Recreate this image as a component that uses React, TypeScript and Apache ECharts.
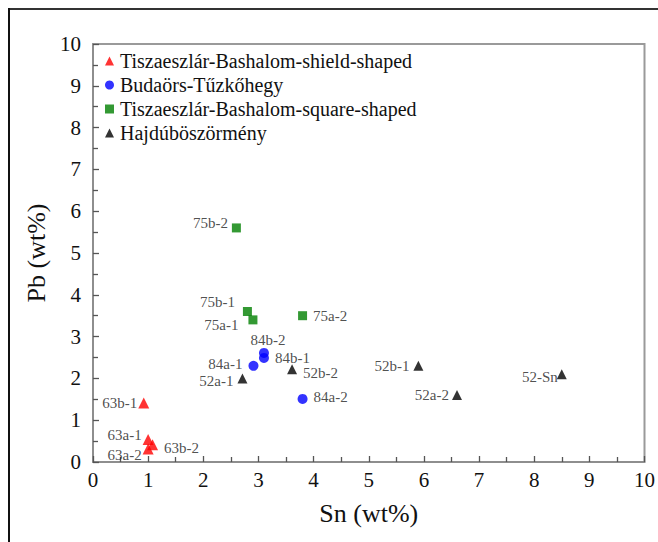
import React, { useEffect, useRef } from "react";
import * as echarts from "echarts";

const seriesNames = [
  "Tiszaeszlár-Bashalom-shield-shaped",
  "Budaörs-Tűzkőhegy",
  "Tiszaeszlár-Bashalom-square-shaped",
  "Hajdúböszörmény",
];

// [Sn, Pb, label]
const shieldData: [number, number, string][] = [
  [0.92, 1.41, "63b-1"],
  [1.0, 0.54, "63a-1"],
  [1.0, 0.31, "63a-2"],
  [1.08, 0.41, "63b-2"],
];
const budaorsData: [number, number, string][] = [
  [2.91, 2.3, "84a-1"],
  [3.1, 2.61, "84b-2"],
  [3.1, 2.49, "84b-1"],
  [3.8, 1.51, "84a-2"],
];
const squareData: [number, number, string][] = [
  [2.6, 5.6, "75b-2"],
  [2.8, 3.6, "75b-1"],
  [2.9, 3.4, "75a-1"],
  [3.8, 3.5, "75a-2"],
];
const hajduData: [number, number, string][] = [
  [2.71, 2.0, "52a-1"],
  [3.61, 2.22, "52b-2"],
  [5.9, 2.3, "52b-1"],
  [6.6, 1.6, "52a-2"],
  [8.5, 2.1, "52-Sn"],
];

const labelPlacement: Record<string, { position: string; offset: [number, number] }> = {
  "63b-1": { position: "left", offset: [3, 0] },
  "63a-1": { position: "left", offset: [3, -4] },
  "63a-2": { position: "left", offset: [3, 6] },
  "63b-2": { position: "right", offset: [2, 3] },
  "84a-1": { position: "left", offset: [-2, -2] },
  "84b-2": { position: "top", offset: [4, 4] },
  "84b-1": { position: "right", offset: [2, 0] },
  "84a-2": { position: "right", offset: [2, -2] },
  "75b-2": { position: "left", offset: [0, -5] },
  "75b-1": { position: "left", offset: [-4, -10] },
  "75a-1": { position: "left", offset: [-6, 5] },
  "75a-2": { position: "right", offset: [2, 0] },
  "52a-1": { position: "left", offset: [0, 3] },
  "52b-2": { position: "right", offset: [2, 4] },
  "52b-1": { position: "left", offset: [0, 0] },
  "52a-2": { position: "left", offset: [1, 0] },
  "52-Sn": { position: "left", offset: [5, 3] },
};

const FONT = "Liberation Serif";

function toData(arr: [number, number, string][]) {
  return arr.map(([x, y, name]) => ({
    value: [x, y],
    name,
    label: {
      show: true,
      formatter: name,
      position: labelPlacement[name].position,
      offset: labelPlacement[name].offset,
      distance: 4,
      fontFamily: FONT,
      fontSize: 15,
      color: "#222",
    },
  }));
}

export default function App() {
  const ref = useRef<HTMLDivElement>(null);
  useEffect(() => {
    if (!ref.current) return;
    const chart = echarts.init(ref.current, null, { renderer: "svg" });
    const axisCommon = {
      min: 0,
      max: 10,
      interval: 1,
      axisLine: { show: true, lineStyle: { color: "#8a8a8a", width: 1.5 } },
      axisTick: { show: true, inside: true, length: 6, lineStyle: { color: "#555", width: 1.3 } },
      minorTick: { show: true, splitNumber: 2, length: 5, lineStyle: { color: "#555", width: 1.3 } },
      splitLine: { show: false },
      minorSplitLine: { show: false },
      axisLabel: { fontFamily: FONT, fontSize: 21, color: "#111" },
      nameTextStyle: { fontFamily: FONT, fontSize: 26, color: "#111" },
      nameLocation: "middle",
    };
    chart.setOption({
      animation: false,
      backgroundColor: "#fff",
      textStyle: { fontFamily: FONT },
      graphic: [
        { type: "line", shape: { x1: 0, y1: 1, x2: 650, y2: 1 }, style: { stroke: "#333", lineWidth: 2 } },
        { type: "line", shape: { x1: 1, y1: 0, x2: 1, y2: 534 }, style: { stroke: "#111", lineWidth: 2 } },
      ],
      grid: {
        left: 85,
        right: 9,
        top: 36,
        bottom: 80,
        show: true,
        borderColor: "#9a9a9a",
        borderWidth: 2,
        backgroundColor: "transparent",
      },
      xAxis: {
        type: "value",
        name: "Sn (wt%)",
        nameGap: 38,
        ...axisCommon,
        axisLabel: { ...axisCommon.axisLabel, margin: 7 },
      },
      yAxis: {
        type: "value",
        name: "Pb (wt%)",
        nameGap: 42,
        ...axisCommon,
        axisLabel: { ...axisCommon.axisLabel, margin: 12 },
      },
      legend: {
        orient: "vertical",
        left: 92,
        top: 38,
        itemWidth: 9,
        itemHeight: 9,
        itemGap: 4,
        data: seriesNames,
        textStyle: { fontFamily: FONT, fontSize: 20, color: "#111", padding: [0, 0, 0, 1] },
      },
      series: [
        {
          name: seriesNames[0],
          type: "scatter",
          symbol: "triangle",
          symbolSize: 11,
          itemStyle: { color: "#ff0000" },
          data: toData(shieldData),
        },
        {
          name: seriesNames[1],
          type: "scatter",
          symbol: "circle",
          symbolSize: 10,
          itemStyle: { color: "#0000ff" },
          data: toData(budaorsData),
        },
        {
          name: seriesNames[2],
          type: "scatter",
          symbol: "rect",
          symbolSize: 9,
          itemStyle: { color: "#008000" },
          data: toData(squareData),
        },
        {
          name: seriesNames[3],
          type: "scatter",
          symbol: "triangle",
          symbolSize: 10,
          itemStyle: { color: "#000000" },
          data: toData(hajduData),
        },
      ],
    });
    return () => chart.dispose();
  }, []);
  return (
    <div
      ref={ref}
      style={{ position: "absolute", left: 8, top: 8, width: 650, height: 534 }}
    />
  );
}
